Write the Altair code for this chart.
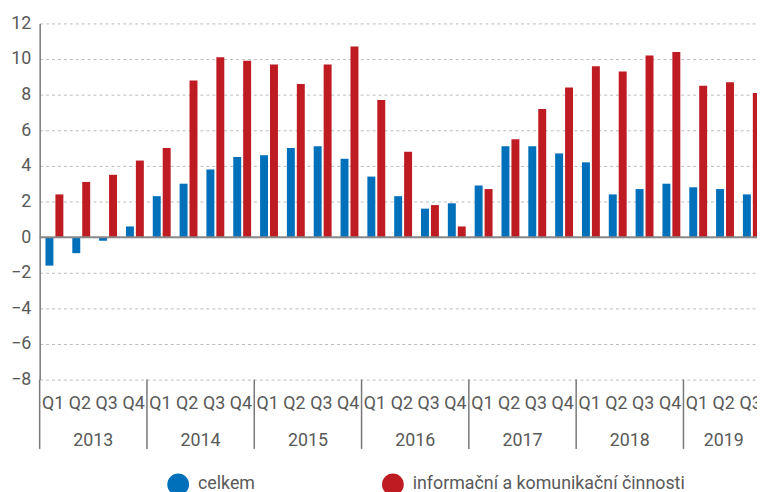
import altair as alt
import pandas as pd

years = [2013, 2014, 2015, 2016, 2017, 2018, 2019]
quarter_labels = ["Q1", "Q2", "Q3", "Q4"]
series_names = ["celkem", "informační a komunikační činnosti"]
celkem = [-1.6, -0.9, -0.2, 0.6, 2.3, 3.0, 3.8, 4.5, 4.6, 5.0, 5.1, 4.4, 3.4, 2.3,
          1.6, 1.9, 2.9, 5.1, 5.1, 4.7, 4.2, 2.4, 2.7, 3.0, 2.8, 2.7, 2.4]
ict = [2.4, 3.1, 3.5, 4.3, 5.0, 8.8, 10.1, 9.9, 9.7, 8.6, 9.7, 10.7, 7.7, 4.8,
       1.8, 0.6, 2.7, 5.5, 7.2, 8.4, 9.6, 9.3, 10.2, 10.4, 8.5, 8.7, 8.1]
y_ticks = [-8, -6, -4, -2, 0, 2, 4, 6, 8, 10, 12]
colors = ["#0070bb", "#be1b22"]

keys = [f"{y} {q}" for y in years for q in quarter_labels][:len(celkem)]

rows = []
for i, k in enumerate(keys):
    rows.append({"q": k, "series": series_names[0], "value": celkem[i]})
    rows.append({"q": k, "series": series_names[1], "value": ict[i]})
df = pd.DataFrame(rows)

full_years = pd.DataFrame({"q": [f"{y} Q2" for y in years[:-1]], "label": [str(y) for y in years[:-1]]})
last_year = pd.DataFrame({"q": [f"{years[-1]} Q2"], "label": [str(years[-1])]})
seps = pd.DataFrame({"q": [f"{y} Q1" for y in years]})
zero = pd.DataFrame({"value": [0]})

FONT = "Roboto"
TXT = "#595959"
W = 725
RANGE = [0, 732]

xscale = alt.Scale(domain=keys, range=RANGE, paddingInner=0, paddingOuter=0)
yscale = alt.Scale(domain=[-8, 12], nice=False)
y_axis = alt.Axis(title=None, values=y_ticks, tickCount=11, ticks=False, labelOverlap=False,
                  labelFont=FONT, labelFontSize=18, labelColor=TXT,
                  labelPadding=9, domainColor="#777777", domainWidth=1.5,
                  gridColor="#bbbbbb", gridDash=[3, 3], gridWidth=1)

bars = alt.Chart(df).mark_bar().encode(
    x=alt.X("q:N", scale=xscale, sort=keys,
            axis=alt.Axis(title=None, labelExpr="split(datum.label, ' ')[1]",
                          ticks=False, domain=False, labelAngle=0, labelOverlap=False,
                          labelFont=FONT, labelFontSize=18, labelColor=TXT,
                          labelPadding=15, grid=False)),
    xOffset=alt.XOffset("series:N", sort=series_names,
                        scale=alt.Scale(paddingInner=0.2, paddingOuter=0.45, align=0.65)),
    y=alt.Y("value:Q", scale=yscale, axis=y_axis),
    color=alt.Color("series:N", sort=series_names,
                    scale=alt.Scale(domain=series_names, range=colors),
                    legend=alt.Legend(title=None, orient="none", legendX=129, legendY=455,
                                      direction="horizontal", symbolType="circle",
                                      symbolSize=484, symbolStrokeWidth=0, symbolOpacity=1,
                                      labelFont=FONT, labelFontSize=18, labelColor=TXT,
                                      labelLimit=500,
                                      labelOffset=9, columnPadding=128, padding=0)),
)

zero_rule = alt.Chart(zero).mark_rule(color="#888888", strokeWidth=2).encode(
    y=alt.Y("value:Q", scale=yscale, axis=y_axis))

sep_rules = alt.Chart(seps).mark_rule(color="#777777", strokeWidth=1.5).encode(
    x=alt.X("q:N", scale=xscale, bandPosition=0),
    y=alt.value(360), y2=alt.value(430))

yl1 = alt.Chart(full_years).mark_text(font=FONT, fontSize=18, color=TXT).encode(
    x=alt.X("q:N", scale=xscale, bandPosition=1), y=alt.value(422), text="label:N")
yl2 = alt.Chart(last_year).mark_text(font=FONT, fontSize=18, color=TXT).encode(
    x=alt.X("q:N", scale=xscale, bandPosition=0.5), y=alt.value(422), text="label:N")

chart = alt.layer(bars, zero_rule, sep_rules, yl1, yl2).properties(
    width=W, height=360,
    autosize=alt.AutoSizeParams(type="none"),
    padding={"left": 32, "top": 13, "right": 0, "bottom": 112},
).configure_view(stroke=None)

chart.save("out.html", embed_options={"renderer": "svg", "actions": False})
